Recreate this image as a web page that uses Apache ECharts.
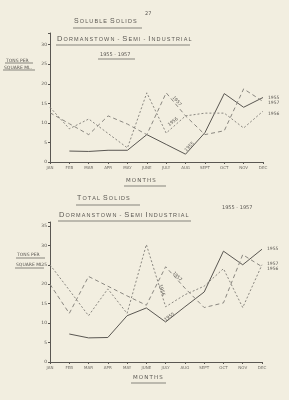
<!DOCTYPE html>
<html>
<head>
<meta charset="UTF-8">
<title>Dormanstown - Semi-Industrial</title>
<script src="https://cdn.jsdelivr.net/npm/echarts@6/dist/echarts.min.js"></script>
<style>
  body { margin: 0; padding: 0; background: #f2eee0; }
  #chart { width: 289px; height: 400px; }
</style>
</head>
<body>
<div id="chart"></div>
<script>
// month tick labels
var months = ['JAN', 'FEB', 'MAR', 'APR', 'MAY', 'JUNE', 'JULY', 'AUG', 'SEPT', 'OCT', 'NOV', 'DEC'];
var years = ['1955', '1956', '1957'];

// soluble solids, tons per square mile
var soluble1955 = [null, 2.8, 2.7, 3, 3, 7, 4.5, 2, 7.5, 17.5, 14, 16.5];
var soluble1956 = [14, 8.5, 11, 7.3, 3.6, 17.7, 7.4, 11.8, 12.5, 12.5, 8.7, 13];
var soluble1957 = [12.6, 9.8, 7, 11.8, 9.7, 7, 17.7, 11.8, 7, 8, 18.7, 15.5];

// total solids
var total1955 = [null, 7.2, 6.2, 6.3, 11.9, 13.9, 10.3, 14.2, 18, 28.5, 25, 29];
var total1956 = [25, 18.5, 11.9, 18.8, 12.5, 30.2, 14.2, 17.3, 19.5, 24, 14, 25];
var total1957 = [20, 12.5, 22, 19.5, 17, 14.6, 24.5, 19, 14, 15.2, 27.6, 24.5];

var ink = '#5a5752';
var pencil = '#8a8780';
var thin = '\u2009';

function pts(arr) {
  var out = [];
  arr.forEach(function (v, i) { if (v !== null) out.push([i, v]); });
  return out;
}

function xAx(grid) {
  return {
    type: 'value', gridIndex: grid, min: 0, max: 11, interval: 1,
    axisLine: { lineStyle: { color: ink, width: 1 } },
    axisTick: { show: true, length: 2, lineStyle: { color: ink } },
    splitLine: { show: false },
    axisLabel: {
      color: '#6e6b65', fontSize: 4, margin: 4, fontFamily: 'DejaVu Sans',
      formatter: function (v) { return months[v]; }
    }
  };
}

function yAx(grid, max) {
  return {
    type: 'value', gridIndex: grid, min: 0, max: max, interval: 5,
    axisLine: { show: true, lineStyle: { color: ink, width: 1 } },
    axisTick: { show: true, length: 2, lineStyle: { color: ink } },
    splitLine: { show: false },
    axisLabel: {
      color: ink, fontSize: 4.5, margin: 3, fontFamily: 'DejaVu Sans',
      formatter: function (v) { return v % 5 === 0 ? v : ''; }
    }
  };
}

// in-chart year tags along a segment
function tag(text, x, y, rot) {
  return {
    coord: [x, y], value: text, symbol: 'circle', symbolSize: 0,
    label: { show: true, formatter: text, rotate: rot, fontSize: 4.5, color: ink, position: 'inside', fontFamily: 'DejaVu Sans' }
  };
}

function line(name, grid, arr, type, color, endOff, tags) {
  return {
    name: name, type: 'line', xAxisIndex: grid, yAxisIndex: grid,
    data: pts(arr), symbol: 'none', silent: true,
    lineStyle: { color: color, width: 1, type: type },
    endLabel: {
      show: true, formatter: name, fontSize: 4.5, color: ink, distance: 5,
      offset: [0, endOff], fontFamily: 'DejaVu Sans'
    },
    markPoint: { silent: true, data: tags }
  };
}

function spaced(s) { return s.split('').join(thin); }

// small-caps style heading, letters spread like hand lettering
function caps(str) {
  return str.split(' ').map(function (w) {
    if (!/^[A-Z]/.test(w)) return '{s|' + spaced(w) + '}';
    return '{b|' + w.charAt(0) + '}{s|' + thin + spaced(w.slice(1)) + '}';
  }).join('{s|  }');
}
function heading(str, x, y, big, small) {
  return {
    type: 'text', left: x, top: y,
    style: {
      text: caps(str), fill: ink, fontFamily: 'DejaVu Sans',
      rich: { b: { fontSize: big, fill: ink }, s: { fontSize: small, fill: ink } }
    }
  };
}
function rule(x1, x2, y) {
  return { type: 'line', shape: { x1: x1, y1: y, x2: x2, y2: y }, style: { stroke: ink, lineWidth: 0.7 } };
}
function small(str, x, y, size) {
  return { type: 'text', left: x, top: y, style: { text: str, fill: ink, fontSize: size || 4.5, fontFamily: 'DejaVu Sans' } };
}

var chart = echarts.init(document.getElementById('chart'));
chart.setOption({
  backgroundColor: '#f2eee0',
  animation: false,
  grid: [
    { left: 50, right: 26, top: 33, bottom: 238 },
    { left: 50, right: 27, top: 222, bottom: 38 }
  ],
  xAxis: [xAx(0), xAx(1)],
  yAxis: [yAx(0, 33), yAx(1, 36)],
  series: [
    line('1955', 0, soluble1955, 'solid', ink, 0, [tag('1955', 7.2, 3.9, 45)]),
    line('1956', 0, soluble1956, [2, 2], pencil, 3, [tag('1956', 6.35, 10.3, 38)]),
    line('1957', 0, soluble1957, [4, 3], pencil, 1, [tag('1957', 6.55, 15.6, -50)]),
    line('1955', 1, total1955, 'solid', ink, 0, [tag('1955', 6.2, 11.6, 35)]),
    line('1956', 1, total1956, [2, 2], pencil, 4, [tag('1956', 5.8, 18.5, -72)]),
    line('1957', 1, total1957, [4, 3], pencil, -3, [tag('1957', 6.6, 22, -46)])
  ],
  graphic: [
    small('27', 145, 11, 5),
    heading('SOLUBLE SOLIDS', 74, 18, 7, 5.5), rule(73, 142, 28),
    heading('DORMANSTOWN - SEMI - INDUSTRIAL', 57, 35, 7.5, 5.5), rule(56, 190, 45),
    small('1955 - 1957', 100, 52, 5), rule(98, 135, 59),
    small('TONS PER', 6, 58), rule(5, 33, 63),
    small('SQUARE ML.', 4, 65), rule(3, 35, 70),
    small(spaced('MONTHS'), 126, 178, 5.5), rule(124, 166, 186),

    heading('TOTAL SOLIDS', 77, 195, 7, 5.5), rule(76, 140, 205),
    heading('DORMANSTOWN - SEMI INDUSTRIAL', 59, 211, 7.5, 5.5), rule(58, 191, 221),
    small('1955 - 1957', 222, 205, 5),
    small('TONS PER', 17, 252), rule(16, 45, 258),
    small('SQUARE ML.', 16, 262), rule(15, 44, 268),
    small(spaced('MONTHS'), 133, 375, 5.5), rule(131, 166, 383)
  ]
});
</script>
</body>
</html>
